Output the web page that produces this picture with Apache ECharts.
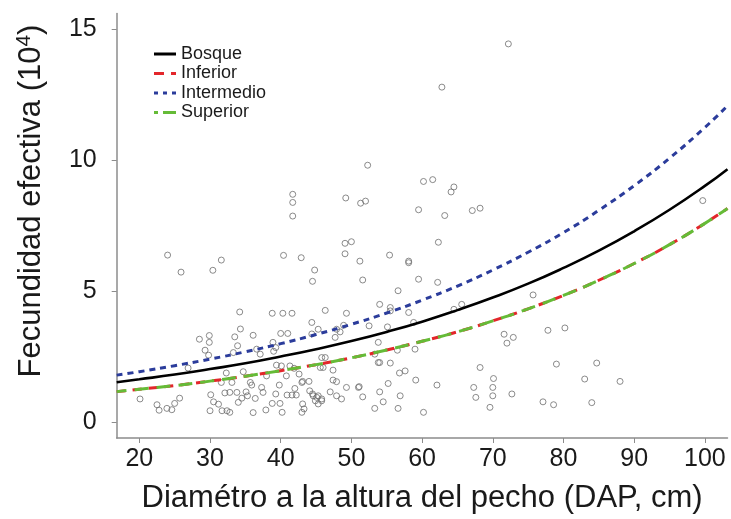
<!DOCTYPE html>
<html>
<head>
<meta charset="utf-8">
<script src="https://cdn.jsdelivr.net/npm/echarts@6/dist/echarts.min.js"></script>
<style>
html,body{margin:0;padding:0;background:#fff;}
#chart{width:731px;height:519px;}
</style>
</head>
<body>
<div id="chart"></div>
<script>
// Data
const xTicks = [20, 30, 40, 50, 60, 70, 80, 90, 100];
const yTicks = [0, 5, 10, 15];
const dap = [16.8, 20, 25, 30, 35, 40, 45, 50, 55, 60, 65, 70, 75, 80, 85, 90, 95, 100, 103.2];
const bosque = [1.53, 1.64, 1.82, 2.03, 2.25, 2.51, 2.79, 3.10, 3.45, 3.84, 4.28, 4.76, 5.29, 5.89, 6.55, 7.29, 8.11, 9.02, 9.66];
const inferior = [1.17, 1.26, 1.40, 1.57, 1.76, 1.97, 2.20, 2.46, 2.76, 3.09, 3.45, 3.87, 4.33, 4.84, 5.42, 6.06, 6.78, 7.59, 8.16];
const intermedio = [1.80, 1.93, 2.16, 2.41, 2.69, 3.00, 3.35, 3.74, 4.17, 4.66, 5.20, 5.81, 6.49, 7.24, 8.09, 9.03, 10.08, 11.25, 12.08];
const superior = [1.17, 1.26, 1.40, 1.57, 1.76, 1.97, 2.20, 2.46, 2.76, 3.09, 3.45, 3.87, 4.33, 4.84, 5.42, 6.06, 6.78, 7.59, 8.16];
const arboles = [
[72.2,14.44],[62.8,12.79],[52.3,9.81],[49.2,8.56],[51.3,8.36],[52.0,8.44],[60.2,9.19],[61.5,9.26],[64.5,8.98],[64.1,8.79],[59.5,8.11],[63.2,7.89],[67.1,8.08],[68.2,8.17],[41.7,8.70],[41.7,8.39],[41.7,7.87],[99.7,8.46],
[24.0,6.38],[25.9,5.73],[31.6,6.19],[30.4,5.80],[40.4,6.37],[42.9,6.28],[44.8,5.81],[44.5,5.38],
[34.2,4.21],[38.8,4.16],[40.3,4.16],[41.6,4.16],[44.4,3.81],[45.3,3.55],
[28.5,3.17],[29.9,3.31],[29.9,3.05],[34.3,3.56],[33.5,3.26],[36.1,3.32],[29.3,2.75],[29.8,2.56],[33.3,2.66],[33.9,2.92],[36.6,2.79],[37.1,2.60],[38.9,3.05],[39.3,2.85],[39.0,2.71],[40.0,3.39],[41.0,3.39],[44.4,3.37],[26.9,2.07],[39.4,2.18],[40.1,2.15],[41.3,2.15],[41.9,2.06],[32.3,1.88],[34.7,1.93],[38.0,1.77],[40.8,1.77],[42.6,1.84],[43.1,1.56],[44.0,1.56],
[20.1,0.89],[22.5,0.67],[22.8,0.46],[23.9,0.53],[24.6,0.48],[25.0,0.72],[25.7,0.92],
[30.1,1.05],[30.5,0.78],[30.0,0.44],[31.2,0.69],[31.7,0.44],[31.6,1.52],[32.1,1.12],[32.8,1.14],[33.1,1.52],[32.4,0.44],[32.8,0.38],[33.8,1.14],[34.0,0.76],[34.5,0.92],[35.1,1.16],[35.3,1.01],[35.7,1.52],[35.9,1.42],[36.4,0.91],[36.1,0.37],[37.9,0.47],[37.3,1.33],[37.5,1.14],[39.3,1.08],[39.8,1.42],[38.8,0.72],[39.9,0.72],[40.2,0.38],[40.9,1.04],[41.6,1.04],[42.2,1.04],[42.0,1.29],[43.0,1.52],[43.1,0.70],[43.3,0.51],[43.0,0.38],[44.1,1.20],[44.5,1.08],[45.3,1.01],[44.9,0.82],
[49.1,6.83],[50.0,6.89],[49.1,6.43],[62.3,6.87],[51.2,6.15],[55.4,6.38],[58.1,6.09],[58.1,6.15],[51.6,5.43],[59.5,5.46],[62.2,5.34],[56.6,5.02],[46.3,4.27],[49.3,4.16],[54.0,4.50],[55.5,4.38],[55.5,4.25],[58.1,4.19],[64.5,4.31],[65.6,4.50],[47.9,3.55],[48.9,3.70],[48.4,3.45],[47.7,3.24],[52.5,3.68],[55.1,3.64],[58.8,3.81],[53.8,3.05],[56.5,2.75],[59.0,2.79],[53.3,2.60],[53.8,2.28],[54.0,2.28],[55.5,2.26],[56.8,1.88],[57.6,1.96],[59.1,1.61],[62.1,1.42],[55.2,1.48],[54.0,1.16],[51.0,1.33],[51.1,1.36],[49.3,1.33],[51.6,0.97],[56.9,1.01],[54.5,0.78],[53.3,0.53],[56.6,0.53],[60.2,0.38],[45.8,2.47],[46.3,2.47],[45.6,2.09],[46.0,2.09],[47.4,1.99],[47.4,1.61],[47.9,1.55],[44.6,1.01],[45.1,0.95],[45.8,0.89],[47.0,1.16],[47.9,1.01],[48.6,0.89],[45.3,0.70],[45.8,0.82],
[67.3,1.33],[67.6,0.95],[70.0,1.33],[70.0,1.01],[69.6,0.57],[68.2,2.09],[70.1,1.67],[71.6,3.36],[72.0,3.02],[72.9,3.24],[72.7,1.08],
[75.7,4.86],[77.8,3.51],[80.2,3.60],[79.0,2.22],[84.7,2.26],[83.0,1.65],[88.0,1.56],[77.1,0.78],[78.6,0.67],[84.0,0.75]
];

const FONT = 'Liberation Sans, Arial, Helvetica, sans-serif';
const axisGray = '#8c8c8c';
const pair = (ys) => dap.map((x, i) => [x, ys[i]]);

const chart = echarts.init(document.getElementById('chart'), null, {renderer: 'canvas'});
chart.setOption({
  animation: false,
  backgroundColor: '#ffffff',
  grid: {left: 116.7, right: 3.5, top: 13.5, bottom: 79.9, containLabel: false},
  legend: {
    orient: 'vertical', left: 149, top: 40,
    itemWidth: 22, itemHeight: 3, itemGap: 1.5,
    data: [
      {name: 'Bosque', icon: 'path://M0,0h22v3h-22z'},
      {name: 'Inferior', icon: 'path://M0,0h10v3h-10zM17,0h5v3h-5z'},
      {name: 'Intermedio', icon: 'path://M0,0h4v3h-4zM9,0h4v3h-4zM18,0h4v3h-4z'},
      {name: 'Superior', icon: 'path://M0,0h4v3h-4zM9,0h13v3h-13z'}
    ],
    textStyle: {fontFamily: FONT, fontSize: 18, color: '#1a1a1a'}
  },
  xAxis: {
    type: 'value', min: 16.8, max: 103.2,
    name: 'Diamétro a la altura del pecho (DAP, cm)',
    nameLocation: 'middle', nameGap: 45,
    nameTextStyle: {fontFamily: FONT, fontSize: 31, color: '#1a1a1a'},
    axisLine: {show: true, onZero: false, lineStyle: {color: axisGray, width: 1.5}},
    axisTick: {show: true, length: 5, lineStyle: {color: axisGray, width: 1}, customValues: xTicks},
    axisLabel: {fontFamily: FONT, fontSize: 25, color: '#1a1a1a', margin: 9, customValues: xTicks},
    splitLine: {show: false}
  },
  yAxis: {
    type: 'value', min: -0.6, max: 15.6,
    axisLine: {show: true, onZero: false, lineStyle: {color: axisGray, width: 1.5}},
    axisTick: {show: true, length: 5, lineStyle: {color: axisGray, width: 1}, customValues: yTicks},
    axisLabel: {fontFamily: FONT, fontSize: 25, color: '#1a1a1a', margin: 20, customValues: yTicks},
    splitLine: {show: false}
  },
  graphic: [{
    type: 'text', x: 31, y: 201, rotation: Math.PI / 2,
    style: {
      text: 'Fecundidad efectiva (10{sup|4})',
      fontFamily: FONT, fontSize: 31, fill: '#1a1a1a',
      align: 'center', verticalAlign: 'middle',
      rich: {sup: {fontFamily: FONT, fontSize: 21, fill: '#1a1a1a', verticalAlign: 'bottom', padding: [0, 0, 14, 0]}}
    }
  }],
  series: [
    {
      name: 'Arboles', type: 'scatter', data: arboles, symbol: 'circle', symbolSize: 6,
      itemStyle: {color: 'rgba(255,255,255,0)', borderColor: '#6e6e6e', borderWidth: 1}, z: 1
    },
    {
      name: 'Bosque', type: 'line', data: pair(bosque), smooth: true, showSymbol: false, symbol: 'none',
      lineStyle: {color: '#000000', width: 2.6, type: 'solid'}, itemStyle: {color: '#000000'}, z: 3
    },
    {
      name: 'Inferior', type: 'line', data: pair(inferior), smooth: true, showSymbol: false, symbol: 'none',
      lineStyle: {color: '#e3262b', width: 3, type: [9, 7]}, itemStyle: {color: '#e3262b'}, z: 3
    },
    {
      name: 'Intermedio', type: 'line', data: pair(intermedio), smooth: true, showSymbol: false, symbol: 'none',
      lineStyle: {color: '#2b3c9b', width: 3, type: [6, 5]}, itemStyle: {color: '#2b3c9b'}, z: 3
    },
    {
      name: 'Superior', type: 'line', data: pair(superior), smooth: true, showSymbol: false, symbol: 'none',
      lineStyle: {color: '#65bb37', width: 3, type: [14, 8], dashOffset: 4}, itemStyle: {color: '#65bb37'}, z: 4
    }
  ]
});
</script>
</body>
</html>
